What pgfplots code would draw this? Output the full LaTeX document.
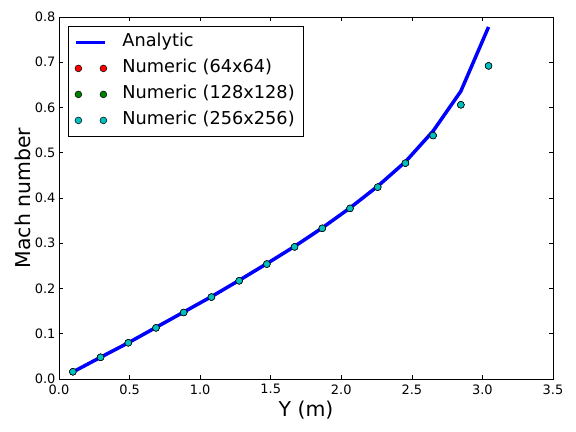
\documentclass[border=0pt]{standalone}
\usepackage{fontspec}
\setmainfont{DejaVu Sans}
\usepackage{pgfplots}
\pgfplotsset{compat=1.18}
\definecolor{mplgreen}{rgb}{0,0.5,0}
\definecolor{mplcyan}{rgb}{0,0.75,0.75}
\pgfplotsset{
  lineleg/.style={legend image code/.code={\draw[##1] (2bp,0bp) -- (31bp,0bp); \path[draw=none, fill=none] (0bp,0bp) -- (45bp,0bp);}},
  numstyle/.style={only marks, mark=*, mark size=3.4bp, mark options={draw=black, line width=0.5bp, fill=#1},
    legend image code/.code={
      \fill[draw=black, line width=0.5bp, fill=#1] (4bp,0bp) circle[radius=3.4bp];
      \fill[draw=black, line width=0.5bp, fill=#1] (29bp,0bp) circle[radius=3.4bp];
      \path[draw=none, fill=none] (0bp,0bp) -- (45bp,0bp);}},
}
\begin{document}
\begin{tikzpicture}
\useasboundingbox (-59bp,-53bp) rectangle (517bp,379bp);
\begin{axis}[
  scale only axis,
  width=494bp, height=362bp,
  xmin=0, xmax=3.5, ymin=0, ymax=0.8,
  xtick={0,0.5,...,3.5},
  ytick={0,0.1,...,0.8},
  /pgf/number format/assume math mode=true,
  xticklabel style={/pgf/number format/fixed, /pgf/number format/fixed zerofill, /pgf/number format/precision=1, font=\fontsize{13}{15}\selectfont, yshift=-2bp},
  yticklabel style={/pgf/number format/fixed, /pgf/number format/fixed zerofill, /pgf/number format/precision=1, font=\fontsize{13}{15}\selectfont},
  scaled ticks=false,
  tick align=inside,
  major tick length=4bp,
  axis line style={line width=0.9bp},
  tick style={black, line width=0.6bp},
  xlabel={Y (m)},
  ylabel={Mach number},
  xlabel style={font=\fontsize{20.5}{24}\selectfont, at={(axis description cs:0.5,0)}, anchor=base, yshift=-37bp},
  ylabel style={font=\fontsize{20.5}{24}\selectfont, at={(axis description cs:0,0.5)}, anchor=base, yshift=28bp},
  legend cell align=left,
  legend style={at={(0,1)}, anchor=north west, xshift=9bp, yshift=-9bp,
    draw=black, line width=0.8bp, inner xsep=6bp, inner ysep=4bp,
    font=\fontsize{17.8}{20}\selectfont,
    nodes={text height=13.5bp, text depth=4.5bp, inner sep=3bp},
    row sep=2bp},
]
\addplot[blue, line width=3.5bp, lineleg] coordinates {
(0.0982,0.0155) (0.2945,0.048) (0.4909,0.080) (0.6872,0.114) (0.8836,0.148)
(1.0799,0.182) (1.2763,0.218) (1.4726,0.255) (1.6690,0.293) (1.8653,0.334)
(2.0617,0.378) (2.2580,0.426) (2.4544,0.480) (2.6507,0.548) (2.8471,0.636)
(3.0434,0.778)};
\addlegendentry{Analytic}
\addplot[numstyle=red] coordinates {
(0.0982,0.016) (0.2945,0.048) (0.4909,0.080) (0.6872,0.113) (0.8836,0.147)
(1.0799,0.181) (1.2763,0.217) (1.4726,0.254) (1.6690,0.292) (1.8653,0.333)
(2.0617,0.377) (2.2580,0.424) (2.4544,0.477) (2.6507,0.538) (2.8471,0.606)
(3.0434,0.692)};
\addlegendentry{Numeric (64x64)}
\addplot[numstyle=mplgreen] coordinates {
(0.0982,0.016) (0.2945,0.048) (0.4909,0.080) (0.6872,0.113) (0.8836,0.147)
(1.0799,0.181) (1.2763,0.217) (1.4726,0.254) (1.6690,0.292) (1.8653,0.333)
(2.0617,0.377) (2.2580,0.424) (2.4544,0.477) (2.6507,0.538) (2.8471,0.606)
(3.0434,0.692)};
\addlegendentry{Numeric (128x128)}
\addplot[numstyle=mplcyan] coordinates {
(0.0982,0.016) (0.2945,0.048) (0.4909,0.080) (0.6872,0.113) (0.8836,0.147)
(1.0799,0.181) (1.2763,0.217) (1.4726,0.254) (1.6690,0.292) (1.8653,0.333)
(2.0617,0.377) (2.2580,0.424) (2.4544,0.477) (2.6507,0.538) (2.8471,0.606)
(3.0434,0.692)};
\addlegendentry{Numeric (256x256)}
\end{axis}
\end{tikzpicture}
\end{document}
